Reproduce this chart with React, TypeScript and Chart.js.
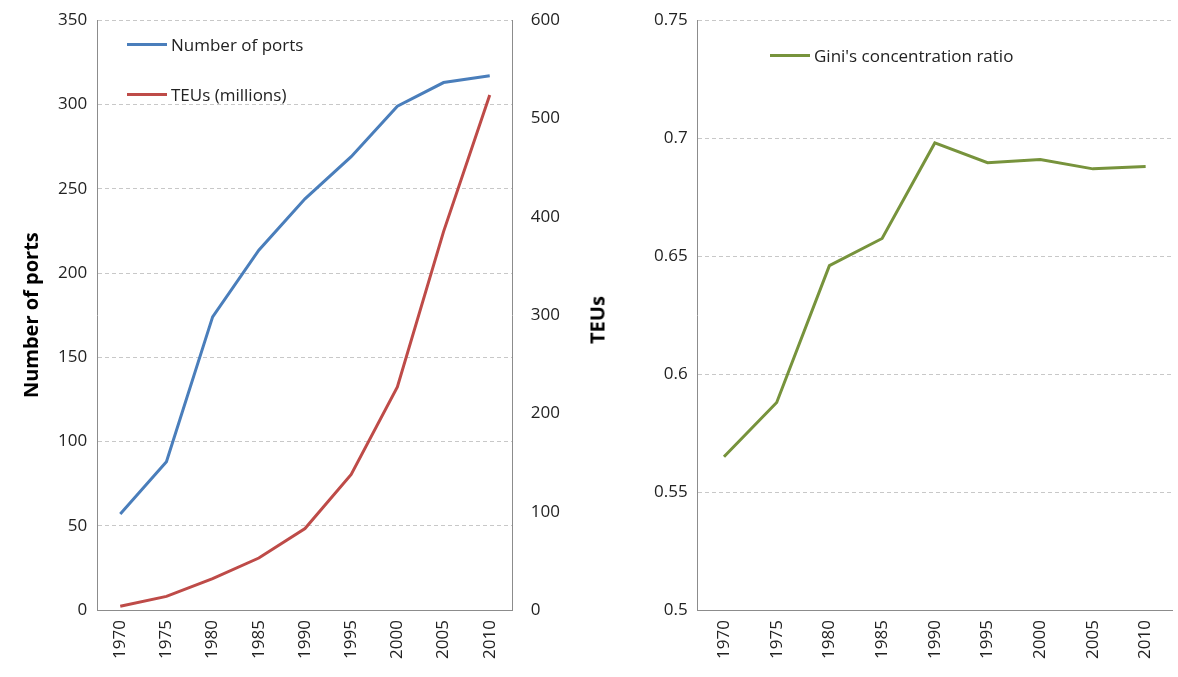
import React, { useEffect, useRef } from "react";
import { Chart, registerables } from "chart.js";
Chart.register(...registerables);

const years = ["1970", "1975", "1980", "1985", "1990", "1995", "2000", "2005", "2010"];
const ports = [57, 88, 174, 213.5, 244, 269, 299, 313, 317];
const teus = [4, 14, 32, 53, 83, 138, 227, 385, 524];
const gini = [0.565, 0.588, 0.646, 0.6575, 0.698, 0.6896, 0.691, 0.687, 0.688];

const FONT = "'Open Sans', 'Liberation Sans', sans-serif";
const TICK = { family: FONT, size: 17 };

function xAxis() {
  return {
    type: "category" as const,
    offset: true,
    grid: { display: false, drawTicks: true, tickLength: 6 },
    border: { color: "#8c8c8c" },
    ticks: { color: "#222", font: TICK, minRotation: 90, maxRotation: 90, padding: 4 },
  };
}

function LeftChart() {
  const ref = useRef<HTMLCanvasElement>(null);
  useEffect(() => {
    const c = new Chart(ref.current!, {
      type: "line",
      data: {
        labels: years,
        datasets: [
          { data: ports, borderColor: "#4a7ebb", borderWidth: 3, pointRadius: 0, yAxisID: "y", tension: 0 },
          { data: teus, borderColor: "#be4b48", borderWidth: 3, pointRadius: 0, yAxisID: "y1", tension: 0 },
        ],
      },
      options: {
        animation: false,
        responsive: false,
        layout: { padding: { top: 10, left: 16, right: 35, bottom: 14 } },
        plugins: { legend: { display: false }, tooltip: { enabled: false } },
        scales: {
          x: xAxis(),
          y: {
            min: 0, max: 350,
            ticks: { stepSize: 50, color: "#222", font: TICK, padding: 10 },
            grid: { color: "#c8c8c8", drawTicks: false },
            border: { color: "#8c8c8c", dash: [4, 3] } as any,
            title: { display: true, text: "Number of ports", color: "#000", font: { family: FONT, size: 20, weight: "bold" } },
          },
          y1: {
            position: "right",
            min: 0, max: 600,
            ticks: { stepSize: 100, color: "#222", font: TICK, padding: 10 },
            grid: { display: false },
            border: { color: "#8c8c8c" },
          },
        },
      },
    });
    return () => c.destroy();
  }, []);
  return <canvas ref={ref} width={605} height={677} />;
}

function RightChart() {
  const ref = useRef<HTMLCanvasElement>(null);
  useEffect(() => {
    const c = new Chart(ref.current!, {
      type: "line",
      data: {
        labels: years,
        datasets: [{ data: gini, borderColor: "#77933c", borderWidth: 3, pointRadius: 0, tension: 0 }],
      },
      options: {
        animation: false,
        responsive: false,
        layout: { padding: { top: 10, left: 39, right: 6, bottom: 14 } },
        plugins: { legend: { display: false }, tooltip: { enabled: false } },
        scales: {
          x: xAxis(),
          y: {
            min: 0.5, max: 0.75,
            ticks: { stepSize: 0.05, color: "#222", font: TICK, padding: 10, callback: (v: any) => String(+Number(v).toFixed(2)) },
            grid: { color: "#c8c8c8", drawTicks: false },
            border: { color: "#8c8c8c", dash: [4, 3] } as any,
          },
        },
      },
    });
    return () => c.destroy();
  }, []);
  return <canvas ref={ref} width={573} height={677} />;
}

const legendItem = (color: string, text: string, left: number, top: number) => (
  <div style={{ position: "absolute", left, top, display: "flex", alignItems: "center", fontFamily: FONT, fontSize: 17, color: "#222" }}>
    <span style={{ display: "inline-block", width: 40, height: 3, background: color, marginRight: 4 }} />
    {text}
  </div>
);

export default function App() {
  return (
    <div style={{ position: "fixed", left: 0, top: 0, width: 1178, height: 677, background: "#fff" }}>
      <div style={{ position: "absolute", left: 0, top: 0 }}><LeftChart /></div>
      <div style={{ position: "absolute", left: 605, top: 0 }}><RightChart /></div>
      <div style={{ position: "absolute", left: 597, top: 320, transform: "translate(-50%, -50%) rotate(-90deg)", fontFamily: FONT, fontSize: 20, fontWeight: "bold", color: "#000" }}>TEUs</div>
      {legendItem("#4a7ebb", "Number of ports", 127, 33)}
      {legendItem("#be4b48", "TEUs (millions)", 127, 83)}
      {legendItem("#77933c", "Gini's concentration ratio", 770, 44)}
    </div>
  );
}
